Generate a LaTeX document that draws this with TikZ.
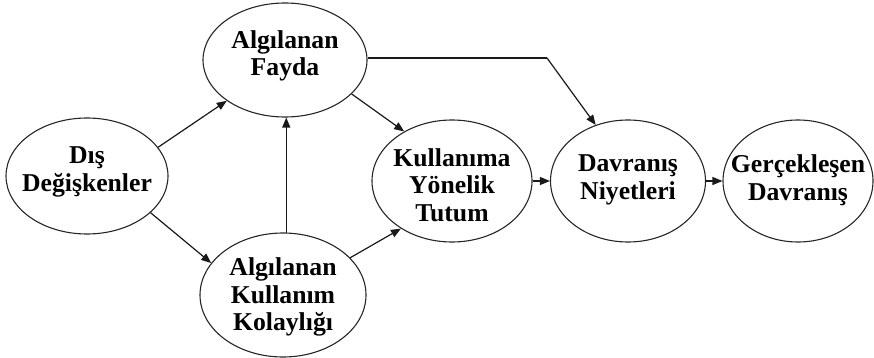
\documentclass[tikz,border=0pt]{standalone}
\usepackage{fontspec}
\setmainfont{Liberation Serif}
\usetikzlibrary{shapes.geometric,arrows.meta}
\begin{document}
\begin{tikzpicture}[x=1pt,y=-1pt,
  ell/.style={draw=black!85, ellipse, line width=1.1pt, inner sep=0pt},
  lbl/.style={font=\bfseries\fontsize{25.7}{27.5}\selectfont, align=center, inner sep=0pt},
  arr/.style={draw=black!90, line width=1.2pt, -{Triangle[length=10pt,width=8pt]}},
  ln/.style={draw=black!90, line width=1.2pt}]
\useasboundingbox (0,0) rectangle (874,358);
% ellipses
\node[ell, minimum width=162pt, minimum height=116pt] (dis) at (87,176) {};
\node[ell, minimum width=164pt, minimum height=114pt] (fay) at (285,60) {};
\node[ell, minimum width=166pt, minimum height=124pt] (kol) at (283,295) {};
\node[ell, minimum width=160pt, minimum height=122pt] (tut) at (452,181) {};
\node[ell, minimum width=155pt, minimum height=122pt] (niy) at (628,181) {};
\node[ell, minimum width=150pt, minimum height=122pt] (ger) at (798,181) {};
% texts
\node[lbl] (dis-t) at (87,172) {Dış\\Değişkenler};
\node[lbl] (fay-t) at (285,56) {Algılanan\\Fayda};
\node[lbl] (kol-t) at (283,297) {Algılanan\\Kullanım\\Kolaylığı};
\node[lbl] (tut-t) at (452,185) {Kullanıma\\Yönelik\\Tutum};
\node[lbl] (niy-t) at (628,180) {Davranış\\Niyetleri};
\node[lbl] (ger-t) at (798,180) {Gerçekleşen\\Davranış};
% connectors
\draw[arr] (dis.22) -- (fay.215);
\draw[arr] (dis.-30) -- (kol.156);
\draw[arr] (kol.87) -- (kol.87 |- fay.south);
\draw[arr] (fay.-27) -- (tut.134);
\draw[arr] (kol.29) -- (tut.223);
\coordinate (bend) at (547,58);
\draw[ln] (fay.east |- bend) -- (bend);
\draw[arr] (bend) -- (niy.120);
\draw[arr] (tut.east) -- (niy.west);
\draw[arr] (niy.east) -- (ger.west);
\end{tikzpicture}
\end{document}
